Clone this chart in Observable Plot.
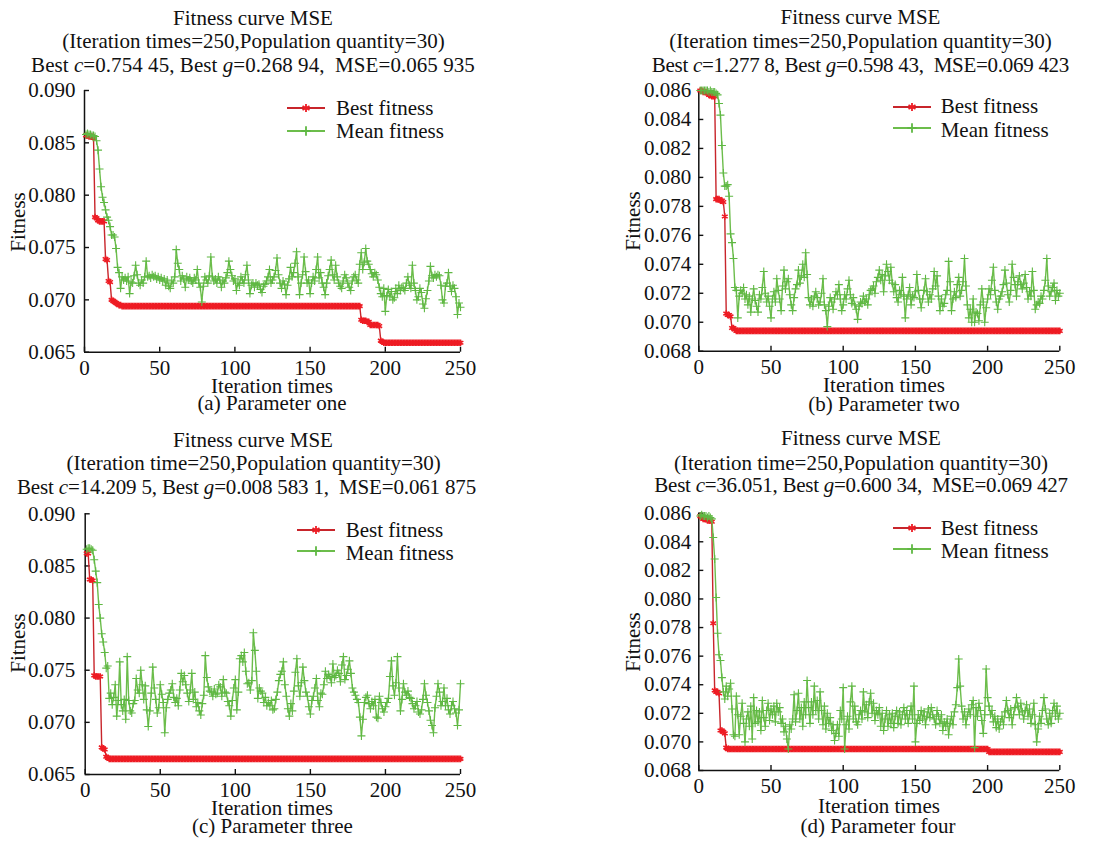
<!DOCTYPE html>
<html><head><meta charset="utf-8">
<script src="https://cdn.jsdelivr.net/npm/d3@7"></script>
<script src="https://cdn.jsdelivr.net/npm/@observablehq/plot@0.6"></script>
<style>
html,body{margin:0;padding:0;background:#fff;}
body{width:1103px;height:842px;position:relative;overflow:hidden;font-family:"Liberation Serif","Times New Roman",serif;color:#111;}
.t{position:absolute;white-space:nowrap;font-size:21px;line-height:16px;}
.p{position:absolute;}
.p svg{overflow:visible;}
</style>
</head><body>
<script>
// ---------- data ----------
const iterations = d3.range(1, 251);
const xTicks = [0, 50, 100, 150, 200, 250];
const yTicksWide = [0.065, 0.070, 0.075, 0.080, 0.085, 0.090];
const yTicksNarrow = [0.068, 0.070, 0.072, 0.074, 0.076, 0.078, 0.080, 0.082, 0.084, 0.086];

const bestA = [
0.0857,0.0857,0.0856,0.0856,0.0856,0.0855,0.0779,0.0778,0.0776,0.0775,
0.0775,0.0775,0.0775,0.0739,0.0738,0.0718,0.0717,0.0700,0.0699,0.0698,
0.0697,0.0696,0.0695,0.0695,0.0694,0.0694,0.0694,0.0694,0.0694,0.0694,
0.0694,0.0694,0.0694,0.0694,0.0694,0.0694,0.0694,0.0694,0.0694,0.0694,
0.0694,0.0694,0.0694,0.0694,0.0694,0.0694,0.0694,0.0694,0.0694,0.0694,
0.0694,0.0694,0.0694,0.0694,0.0694,0.0694,0.0694,0.0694,0.0694,0.0694,
0.0694,0.0694,0.0694,0.0694,0.0694,0.0694,0.0694,0.0694,0.0694,0.0694,
0.0694,0.0694,0.0694,0.0694,0.0694,0.0694,0.0694,0.0694,0.0694,0.0694,
0.0694,0.0694,0.0694,0.0694,0.0694,0.0694,0.0694,0.0694,0.0694,0.0694,
0.0694,0.0694,0.0694,0.0694,0.0694,0.0694,0.0694,0.0694,0.0694,0.0694,
0.0694,0.0694,0.0694,0.0694,0.0694,0.0694,0.0694,0.0694,0.0694,0.0694,
0.0694,0.0694,0.0694,0.0694,0.0694,0.0694,0.0694,0.0694,0.0694,0.0694,
0.0694,0.0694,0.0694,0.0694,0.0694,0.0694,0.0694,0.0694,0.0694,0.0694,
0.0694,0.0694,0.0694,0.0694,0.0694,0.0694,0.0694,0.0694,0.0694,0.0694,
0.0694,0.0694,0.0694,0.0694,0.0694,0.0694,0.0694,0.0694,0.0694,0.0694,
0.0694,0.0694,0.0694,0.0694,0.0694,0.0694,0.0694,0.0694,0.0694,0.0694,
0.0694,0.0694,0.0694,0.0694,0.0694,0.0694,0.0694,0.0694,0.0694,0.0694,
0.0694,0.0694,0.0694,0.0694,0.0694,0.0694,0.0694,0.0694,0.0694,0.0694,
0.0694,0.0694,0.0694,0.0681,0.0680,0.0680,0.0680,0.0679,0.0679,0.0676,
0.0676,0.0676,0.0676,0.0676,0.0676,0.0675,0.0661,0.0660,0.0659,0.0659,
0.0659,0.0659,0.0659,0.0659,0.0659,0.0659,0.0659,0.0659,0.0659,0.0659,
0.0659,0.0659,0.0659,0.0659,0.0659,0.0659,0.0659,0.0659,0.0659,0.0659,
0.0659,0.0659,0.0659,0.0659,0.0659,0.0659,0.0659,0.0659,0.0659,0.0659,
0.0659,0.0659,0.0659,0.0659,0.0659,0.0659,0.0659,0.0659,0.0659,0.0659,
0.0659,0.0659,0.0659,0.0659,0.0659,0.0659,0.0659,0.0659,0.0659,0.0659];

const meanA = [
0.0858,0.0859,0.0858,0.0858,0.0857,0.0857,0.0856,0.0852,0.0843,0.0825,
0.0808,0.0798,0.0793,0.0786,0.0779,0.0776,0.0770,0.0762,0.0762,0.0760,
0.0749,0.0731,0.0726,0.0711,0.0722,0.0719,0.0721,0.0718,0.0722,0.0706,
0.0717,0.0716,0.0723,0.0733,0.0724,0.0716,0.0714,0.0719,0.0716,0.0722,
0.0737,0.0722,0.0723,0.0721,0.0724,0.0722,0.0723,0.0720,0.0722,0.0719,
0.0721,0.0718,0.0720,0.0714,0.0719,0.0713,0.0711,0.0718,0.0716,0.0722,
0.0748,0.0735,0.0729,0.0718,0.0723,0.0720,0.0712,0.0722,0.0719,0.0721,
0.0718,0.0716,0.0721,0.0719,0.0729,0.0716,0.0712,0.0698,0.0713,0.0722,
0.0719,0.0716,0.0723,0.0741,0.0722,0.0718,0.0720,0.0716,0.0722,0.0719,
0.0712,0.0718,0.0716,0.0721,0.0726,0.0737,0.0729,0.0723,0.0718,0.0720,
0.0709,0.0716,0.0714,0.0722,0.0719,0.0716,0.0724,0.0733,0.0719,0.0706,
0.0714,0.0716,0.0712,0.0716,0.0714,0.0715,0.0710,0.0707,0.0713,0.0715,
0.0718,0.0722,0.0729,0.0716,0.0719,0.0722,0.0728,0.0740,0.0724,0.0716,
0.0711,0.0718,0.0715,0.0705,0.0714,0.0720,0.0731,0.0722,0.0726,0.0735,
0.0746,0.0722,0.0705,0.0716,0.0724,0.0741,0.0727,0.0716,0.0719,0.0706,
0.0716,0.0722,0.0718,0.0729,0.0741,0.0721,0.0726,0.0716,0.0712,0.0705,
0.0716,0.0723,0.0729,0.0738,0.0724,0.0719,0.0733,0.0722,0.0716,0.0713,
0.0711,0.0718,0.0724,0.0721,0.0716,0.0712,0.0709,0.0718,0.0722,0.0724,
0.0719,0.0716,0.0734,0.0745,0.0729,0.0736,0.0749,0.0737,0.0734,0.0729,
0.0725,0.0722,0.0726,0.0724,0.0719,0.0712,0.0706,0.0703,0.0711,0.0689,
0.0704,0.0710,0.0703,0.0708,0.0700,0.0702,0.0711,0.0706,0.0714,0.0709,
0.0712,0.0711,0.0709,0.0716,0.0722,0.0714,0.0711,0.0733,0.0716,0.0709,
0.0700,0.0703,0.0711,0.0707,0.0696,0.0692,0.0701,0.0709,0.0718,0.0732,
0.0723,0.0721,0.0724,0.0722,0.0724,0.0723,0.0714,0.0700,0.0697,0.0713,
0.0716,0.0726,0.0713,0.0708,0.0714,0.0711,0.0703,0.0686,0.0697,0.0693];

const bestB = [
0.0860,0.0860,0.0859,0.0859,0.0859,0.0858,0.0857,0.0857,0.0856,0.0856,
0.0856,0.0785,0.0785,0.0785,0.0784,0.0784,0.0783,0.0773,0.0706,0.0705,
0.0705,0.0704,0.0696,0.0696,0.0695,0.0694,0.0694,0.0694,0.0694,0.0694,
0.0694,0.0694,0.0694,0.0694,0.0694,0.0694,0.0694,0.0694,0.0694,0.0694,
0.0694,0.0694,0.0694,0.0694,0.0694,0.0694,0.0694,0.0694,0.0694,0.0694,
0.0694,0.0694,0.0694,0.0694,0.0694,0.0694,0.0694,0.0694,0.0694,0.0694,
0.0694,0.0694,0.0694,0.0694,0.0694,0.0694,0.0694,0.0694,0.0694,0.0694,
0.0694,0.0694,0.0694,0.0694,0.0694,0.0694,0.0694,0.0694,0.0694,0.0694,
0.0694,0.0694,0.0694,0.0694,0.0694,0.0694,0.0694,0.0694,0.0694,0.0694,
0.0694,0.0694,0.0694,0.0694,0.0694,0.0694,0.0694,0.0694,0.0694,0.0694,
0.0694,0.0694,0.0694,0.0694,0.0694,0.0694,0.0694,0.0694,0.0694,0.0694,
0.0694,0.0694,0.0694,0.0694,0.0694,0.0694,0.0694,0.0694,0.0694,0.0694,
0.0694,0.0694,0.0694,0.0694,0.0694,0.0694,0.0694,0.0694,0.0694,0.0694,
0.0694,0.0694,0.0694,0.0694,0.0694,0.0694,0.0694,0.0694,0.0694,0.0694,
0.0694,0.0694,0.0694,0.0694,0.0694,0.0694,0.0694,0.0694,0.0694,0.0694,
0.0694,0.0694,0.0694,0.0694,0.0694,0.0694,0.0694,0.0694,0.0694,0.0694,
0.0694,0.0694,0.0694,0.0694,0.0694,0.0694,0.0694,0.0694,0.0694,0.0694,
0.0694,0.0694,0.0694,0.0694,0.0694,0.0694,0.0694,0.0694,0.0694,0.0694,
0.0694,0.0694,0.0694,0.0694,0.0694,0.0694,0.0694,0.0694,0.0694,0.0694,
0.0694,0.0694,0.0694,0.0694,0.0694,0.0694,0.0694,0.0694,0.0694,0.0694,
0.0694,0.0694,0.0694,0.0694,0.0694,0.0694,0.0694,0.0694,0.0694,0.0694,
0.0694,0.0694,0.0694,0.0694,0.0694,0.0694,0.0694,0.0694,0.0694,0.0694,
0.0694,0.0694,0.0694,0.0694,0.0694,0.0694,0.0694,0.0694,0.0694,0.0694,
0.0694,0.0694,0.0694,0.0694,0.0694,0.0694,0.0694,0.0694,0.0694,0.0694,
0.0694,0.0694,0.0694,0.0694,0.0694,0.0694,0.0694,0.0694,0.0694,0.0694];

const meanB = [
0.0860,0.0860,0.0860,0.0860,0.0860,0.0860,0.0859,0.0860,0.0859,0.0859,
0.0859,0.0858,0.0857,0.0851,0.0843,0.0822,0.0803,0.0794,0.0794,0.0795,
0.0787,0.0761,0.0755,0.0744,0.0724,0.0722,0.0703,0.0718,0.0722,0.0720,
0.0724,0.0716,0.0719,0.0712,0.0718,0.0707,0.0716,0.0723,0.0715,0.0711,
0.0707,0.0719,0.0716,0.0724,0.0735,0.0720,0.0714,0.0718,0.0711,0.0703,
0.0716,0.0721,0.0714,0.0730,0.0722,0.0716,0.0708,0.0725,0.0736,0.0723,
0.0728,0.0730,0.0719,0.0712,0.0708,0.0717,0.0723,0.0726,0.0736,0.0727,
0.0732,0.0740,0.0731,0.0748,0.0733,0.0717,0.0712,0.0716,0.0711,0.0718,
0.0721,0.0717,0.0712,0.0714,0.0720,0.0730,0.0712,0.0708,0.0697,0.0711,
0.0717,0.0714,0.0709,0.0716,0.0721,0.0719,0.0726,0.0716,0.0708,0.0712,
0.0719,0.0716,0.0723,0.0729,0.0719,0.0713,0.0717,0.0712,0.0709,0.0702,
0.0711,0.0714,0.0713,0.0718,0.0714,0.0716,0.0712,0.0719,0.0722,0.0723,
0.0725,0.0720,0.0728,0.0731,0.0736,0.0729,0.0733,0.0721,0.0732,0.0740,
0.0735,0.0729,0.0738,0.0727,0.0721,0.0726,0.0717,0.0714,0.0722,0.0719,
0.0731,0.0718,0.0703,0.0716,0.0719,0.0724,0.0712,0.0718,0.0717,0.0721,
0.0733,0.0722,0.0716,0.0710,0.0716,0.0722,0.0730,0.0721,0.0714,0.0719,
0.0716,0.0723,0.0735,0.0725,0.0732,0.0718,0.0708,0.0716,0.0711,0.0713,
0.0719,0.0722,0.0742,0.0728,0.0708,0.0716,0.0721,0.0717,0.0726,0.0731,
0.0718,0.0722,0.0728,0.0744,0.0725,0.0712,0.0703,0.0709,0.0700,0.0716,
0.0700,0.0707,0.0706,0.0701,0.0712,0.0723,0.0714,0.0700,0.0710,0.0716,
0.0723,0.0719,0.0729,0.0738,0.0722,0.0714,0.0709,0.0716,0.0718,0.0721,
0.0726,0.0736,0.0727,0.0719,0.0714,0.0722,0.0740,0.0731,0.0726,0.0718,
0.0728,0.0732,0.0726,0.0723,0.0727,0.0733,0.0724,0.0716,0.0721,0.0718,
0.0735,0.0722,0.0709,0.0712,0.0714,0.0713,0.0718,0.0716,0.0722,0.0729,
0.0744,0.0725,0.0718,0.0721,0.0724,0.0727,0.0715,0.0722,0.0718,0.0720];

const bestC = [
0.0862,0.0862,0.0837,0.0837,0.0836,0.0745,0.0744,0.0744,0.0744,0.0744,
0.0676,0.0675,0.0674,0.0667,0.0666,0.0665,0.0665,0.0665,0.0665,0.0665,
0.0665,0.0665,0.0665,0.0665,0.0665,0.0665,0.0665,0.0665,0.0665,0.0665,
0.0665,0.0665,0.0665,0.0665,0.0665,0.0665,0.0665,0.0665,0.0665,0.0665,
0.0665,0.0665,0.0665,0.0665,0.0665,0.0665,0.0665,0.0665,0.0665,0.0665,
0.0665,0.0665,0.0665,0.0665,0.0665,0.0665,0.0665,0.0665,0.0665,0.0665,
0.0665,0.0665,0.0665,0.0665,0.0665,0.0665,0.0665,0.0665,0.0665,0.0665,
0.0665,0.0665,0.0665,0.0665,0.0665,0.0665,0.0665,0.0665,0.0665,0.0665,
0.0665,0.0665,0.0665,0.0665,0.0665,0.0665,0.0665,0.0665,0.0665,0.0665,
0.0665,0.0665,0.0665,0.0665,0.0665,0.0665,0.0665,0.0665,0.0665,0.0665,
0.0665,0.0665,0.0665,0.0665,0.0665,0.0665,0.0665,0.0665,0.0665,0.0665,
0.0665,0.0665,0.0665,0.0665,0.0665,0.0665,0.0665,0.0665,0.0665,0.0665,
0.0665,0.0665,0.0665,0.0665,0.0665,0.0665,0.0665,0.0665,0.0665,0.0665,
0.0665,0.0665,0.0665,0.0665,0.0665,0.0665,0.0665,0.0665,0.0665,0.0665,
0.0665,0.0665,0.0665,0.0665,0.0665,0.0665,0.0665,0.0665,0.0665,0.0665,
0.0665,0.0665,0.0665,0.0665,0.0665,0.0665,0.0665,0.0665,0.0665,0.0665,
0.0665,0.0665,0.0665,0.0665,0.0665,0.0665,0.0665,0.0665,0.0665,0.0665,
0.0665,0.0665,0.0665,0.0665,0.0665,0.0665,0.0665,0.0665,0.0665,0.0665,
0.0665,0.0665,0.0665,0.0665,0.0665,0.0665,0.0665,0.0665,0.0665,0.0665,
0.0665,0.0665,0.0665,0.0665,0.0665,0.0665,0.0665,0.0665,0.0665,0.0665,
0.0665,0.0665,0.0665,0.0665,0.0665,0.0665,0.0665,0.0665,0.0665,0.0665,
0.0665,0.0665,0.0665,0.0665,0.0665,0.0665,0.0665,0.0665,0.0665,0.0665,
0.0665,0.0665,0.0665,0.0665,0.0665,0.0665,0.0665,0.0665,0.0665,0.0665,
0.0665,0.0665,0.0665,0.0665,0.0665,0.0665,0.0665,0.0665,0.0665,0.0665,
0.0665,0.0665,0.0665,0.0665,0.0665,0.0665,0.0665,0.0665,0.0665,0.0665];

const meanC = [
0.0866,0.0867,0.0867,0.0866,0.0865,0.0856,0.0845,0.0834,0.0813,0.0800,
0.0785,0.0777,0.0767,0.0752,0.0754,0.0723,0.0728,0.0717,0.0724,0.0736,
0.0706,0.0721,0.0758,0.0717,0.0711,0.0722,0.0703,0.0763,0.0721,0.0711,
0.0709,0.0718,0.0721,0.0742,0.0731,0.0728,0.0750,0.0736,0.0722,0.0735,
0.0712,0.0696,0.0711,0.0728,0.0753,0.0733,0.0722,0.0709,0.0714,0.0736,
0.0727,0.0719,0.0690,0.0714,0.0722,0.0728,0.0731,0.0737,0.0724,0.0719,
0.0723,0.0716,0.0731,0.0747,0.0739,0.0745,0.0736,0.0728,0.0720,0.0731,
0.0747,0.0722,0.0729,0.0715,0.0719,0.0711,0.0707,0.0718,0.0726,0.0764,
0.0743,0.0734,0.0730,0.0729,0.0725,0.0732,0.0727,0.0728,0.0736,0.0734,
0.0725,0.0741,0.0729,0.0728,0.0720,0.0716,0.0706,0.0721,0.0733,0.0741,
0.0712,0.0729,0.0761,0.0764,0.0758,0.0767,0.0749,0.0737,0.0738,0.0731,
0.0740,0.0786,0.0769,0.0749,0.0723,0.0733,0.0730,0.0728,0.0719,0.0724,
0.0716,0.0719,0.0716,0.0721,0.0712,0.0713,0.0722,0.0729,0.0740,0.0746,
0.0749,0.0758,0.0736,0.0725,0.0713,0.0706,0.0718,0.0711,0.0730,0.0748,
0.0761,0.0735,0.0725,0.0738,0.0753,0.0740,0.0729,0.0725,0.0715,0.0708,
0.0721,0.0725,0.0733,0.0742,0.0721,0.0715,0.0728,0.0727,0.0736,0.0749,
0.0742,0.0746,0.0744,0.0738,0.0756,0.0743,0.0745,0.0750,0.0747,0.0739,
0.0755,0.0763,0.0741,0.0745,0.0751,0.0759,0.0747,0.0733,0.0729,0.0726,
0.0722,0.0719,0.0705,0.0687,0.0703,0.0719,0.0724,0.0726,0.0718,0.0713,
0.0720,0.0716,0.0722,0.0705,0.0704,0.0725,0.0719,0.0713,0.0710,0.0715,
0.0719,0.0723,0.0744,0.0759,0.0735,0.0726,0.0738,0.0763,0.0733,0.0711,
0.0722,0.0737,0.0729,0.0726,0.0730,0.0724,0.0723,0.0718,0.0713,0.0716,
0.0720,0.0710,0.0708,0.0712,0.0722,0.0737,0.0726,0.0719,0.0711,0.0702,
0.0697,0.0690,0.0714,0.0725,0.0737,0.0729,0.0716,0.0720,0.0733,0.0716,
0.0723,0.0712,0.0708,0.0716,0.0720,0.0713,0.0709,0.0697,0.0712,0.0737];

const bestD = [
0.0858,0.0857,0.0856,0.0856,0.0856,0.0855,0.0855,0.0855,0.0854,0.0783,
0.0736,0.0735,0.0735,0.0734,0.0708,0.0708,0.0707,0.0706,0.0696,0.0695,
0.0695,0.0695,0.0695,0.0695,0.0695,0.0695,0.0695,0.0695,0.0695,0.0695,
0.0695,0.0695,0.0695,0.0695,0.0695,0.0695,0.0695,0.0695,0.0695,0.0695,
0.0695,0.0695,0.0695,0.0695,0.0695,0.0695,0.0695,0.0695,0.0695,0.0695,
0.0695,0.0695,0.0695,0.0695,0.0695,0.0695,0.0695,0.0695,0.0695,0.0695,
0.0695,0.0695,0.0695,0.0695,0.0695,0.0695,0.0695,0.0695,0.0695,0.0695,
0.0695,0.0695,0.0695,0.0695,0.0695,0.0695,0.0695,0.0695,0.0695,0.0695,
0.0695,0.0695,0.0695,0.0695,0.0695,0.0695,0.0695,0.0695,0.0695,0.0695,
0.0695,0.0695,0.0695,0.0695,0.0695,0.0695,0.0695,0.0695,0.0695,0.0695,
0.0695,0.0695,0.0695,0.0695,0.0695,0.0695,0.0695,0.0695,0.0695,0.0695,
0.0695,0.0695,0.0695,0.0695,0.0695,0.0695,0.0695,0.0695,0.0695,0.0695,
0.0695,0.0695,0.0695,0.0695,0.0695,0.0695,0.0695,0.0695,0.0695,0.0695,
0.0695,0.0695,0.0695,0.0695,0.0695,0.0695,0.0695,0.0695,0.0695,0.0695,
0.0695,0.0695,0.0695,0.0695,0.0695,0.0695,0.0695,0.0695,0.0695,0.0695,
0.0695,0.0695,0.0695,0.0695,0.0695,0.0695,0.0695,0.0695,0.0695,0.0695,
0.0695,0.0695,0.0695,0.0695,0.0695,0.0695,0.0695,0.0695,0.0695,0.0695,
0.0695,0.0695,0.0695,0.0695,0.0695,0.0695,0.0695,0.0695,0.0695,0.0695,
0.0695,0.0695,0.0695,0.0695,0.0695,0.0695,0.0695,0.0695,0.0695,0.0695,
0.0695,0.0695,0.0695,0.0695,0.0695,0.0695,0.0695,0.0695,0.0695,0.0695,
0.0693,0.0693,0.0693,0.0693,0.0693,0.0693,0.0693,0.0693,0.0693,0.0693,
0.0693,0.0693,0.0693,0.0693,0.0693,0.0693,0.0693,0.0693,0.0693,0.0693,
0.0693,0.0693,0.0693,0.0693,0.0693,0.0693,0.0693,0.0693,0.0693,0.0693,
0.0693,0.0693,0.0693,0.0693,0.0693,0.0693,0.0693,0.0693,0.0693,0.0693,
0.0693,0.0693,0.0693,0.0693,0.0693,0.0693,0.0693,0.0693,0.0693,0.0693];

const meanD = [
0.0858,0.0859,0.0858,0.0858,0.0858,0.0857,0.0858,0.0857,0.0856,0.0843,
0.0828,0.0801,0.0776,0.0761,0.0757,0.0745,0.0735,0.0730,0.0739,0.0732,
0.0737,0.0741,0.0723,0.0705,0.0704,0.0732,0.0719,0.0705,0.0718,0.0727,
0.0713,0.0700,0.0716,0.0721,0.0711,0.0725,0.0702,0.0731,0.0713,0.0722,
0.0714,0.0721,0.0708,0.0729,0.0717,0.0711,0.0722,0.0727,0.0715,0.0723,
0.0719,0.0725,0.0714,0.0727,0.0721,0.0724,0.0713,0.0716,0.0707,0.0711,
0.0702,0.0695,0.0712,0.0709,0.0716,0.0733,0.0714,0.0722,0.0734,0.0716,
0.0724,0.0711,0.0728,0.0719,0.0743,0.0724,0.0713,0.0728,0.0719,0.0739,
0.0722,0.0729,0.0716,0.0735,0.0722,0.0712,0.0725,0.0709,0.0720,0.0713,
0.0717,0.0708,0.0712,0.0701,0.0706,0.0712,0.0704,0.0722,0.0716,0.0738,
0.0695,0.0712,0.0718,0.0709,0.0728,0.0739,0.0716,0.0725,0.0714,0.0712,
0.0719,0.0722,0.0716,0.0735,0.0721,0.0726,0.0717,0.0728,0.0734,0.0720,
0.0727,0.0715,0.0722,0.0719,0.0724,0.0711,0.0720,0.0708,0.0716,0.0722,
0.0711,0.0719,0.0713,0.0720,0.0710,0.0718,0.0722,0.0713,0.0721,0.0712,
0.0719,0.0724,0.0716,0.0722,0.0713,0.0719,0.0725,0.0716,0.0739,0.0700,
0.0713,0.0719,0.0715,0.0722,0.0716,0.0721,0.0712,0.0718,0.0723,0.0717,
0.0724,0.0719,0.0716,0.0712,0.0722,0.0718,0.0713,0.0719,0.0708,0.0714,
0.0711,0.0716,0.0705,0.0713,0.0718,0.0712,0.0721,0.0726,0.0738,0.0758,
0.0739,0.0725,0.0716,0.0721,0.0712,0.0718,0.0723,0.0719,0.0726,0.0729,
0.0696,0.0724,0.0718,0.0727,0.0722,0.0715,0.0706,0.0719,0.0751,0.0731,
0.0725,0.0719,0.0722,0.0714,0.0718,0.0710,0.0716,0.0709,0.0714,0.0718,
0.0712,0.0721,0.0729,0.0722,0.0717,0.0723,0.0712,0.0719,0.0724,0.0731,
0.0725,0.0719,0.0727,0.0721,0.0716,0.0722,0.0726,0.0718,0.0723,0.0713,
0.0719,0.0727,0.0712,0.0700,0.0709,0.0718,0.0713,0.0722,0.0731,0.0723,
0.0716,0.0712,0.0720,0.0713,0.0722,0.0727,0.0718,0.0725,0.0716,0.0720];

const seriesNames = ["Best fitness", "Mean fitness"];
const titleLine1 = ["Fitness curve MSE", "Fitness curve MSE", "Fitness curve MSE", "Fitness curve MSE"];
const titleLine2 = ["(Iteration times=250,Population quantity=30)", "(Iteration times=250,Population quantity=30)",
                    "(Iteration time=250,Population quantity=30)", "(Iteration time=250,Population quantity=30)"];
const titleLine3 = [
  "Best <i>c</i>=0.754 45, Best <i>g</i>=0.268 94,&nbsp; MSE=0.065 935",
  "Best <i>c</i>=1.277 8, Best <i>g</i>=0.598 43,&nbsp; MSE=0.069 423",
  "Best <i>c</i>=14.209 5, Best <i>g</i>=0.008 583 1,&nbsp; MSE=0.061 875",
  "Best <i>c</i>=36.051, Best <i>g</i>=0.600 34,&nbsp; MSE=0.069 427"];
const captions = ["(a) Parameter one", "(b) Parameter two", "(c) Parameter three", "(d) Parameter four"];
const xLabel = "Iteration times";
const yLabel = "Fitness";

// ---------- styles ----------
const RED = "#ee1c24", RED_LINE = "#c8252b", GREEN = "#5fb843", GREEN_LINE = "#6cbd4b";
const FONT = "Liberation Serif";
const FS = 21, LH = 16;
const ASC = (LH - 1.107 * FS) / 2 + 0.891 * FS; // baseline offset inside a text box

function txt(html, x, baseline, center = true, spacing = null) {
  const d = document.createElement("div");
  d.className = "t";
  d.innerHTML = html;
  d.style.left = x + "px";
  d.style.top = (baseline - ASC) + "px";
  if (center) d.style.transform = "translateX(-50%)";
  if (spacing != null) d.style.letterSpacing = spacing + "px";
  document.body.appendChild(d);
}
function vtxt(html, cx, cy) {
  const d = document.createElement("div");
  d.className = "t";
  d.innerHTML = html;
  d.style.left = cx + "px";
  d.style.top = cy + "px";
  d.style.transform = "translate(-50%,-50%) rotate(-90deg)";
  document.body.appendChild(d);
}
function legendSwatch(x1, x2, y, lineColor, markColor, type, size) {
  const w = x2 - x1;
  const svg = d3.create("svg").attr("width", w).attr("height", 12)
    .style("position", "absolute").style("left", x1 + "px").style("top", (y - 6) + "px");
  svg.append("line").attr("x1", 0).attr("x2", w).attr("y1", 6).attr("y2", 6)
    .attr("stroke", lineColor).attr("stroke-width", 2.2);
  svg.append("path").attr("d", d3.symbol(type, size)()).attr("transform", `translate(${w / 2},6)`)
    .attr("fill", "none").attr("stroke", markColor).attr("stroke-width", 1.8);
  document.body.appendChild(svg.node());
}

function panel(cfg) {
  const data = iterations.map((x, i) => ({x, best: cfg.best[i], mean: cfg.mean[i]}));
  const fmt = d3.format(".3f");
  const chart = Plot.plot({
    width: cfg.width, height: cfg.height,
    marginLeft: cfg.mL, marginRight: cfg.mR, marginTop: cfg.mT, marginBottom: cfg.mB,
    style: {fontFamily: FONT, fontSize: FS + "px", color: "#111", background: "transparent", overflow: "visible"},
    x: {domain: [0, 250], label: null},
    y: {domain: cfg.yDomain, label: null},
    marks: [
      Plot.axisX({ticks: xTicks, tickSize: 0, tickPadding: 8, tickFormat: d => String(d), label: null}),
      Plot.axisX({ticks: xTicks, tickSize: -5, tickFormat: () => "", label: null, strokeWidth: 1.4}),
      Plot.axisY({ticks: cfg.yTicks, tickSize: 0, tickPadding: cfg.padY, tickFormat: fmt, label: null}),
      Plot.axisY({ticks: cfg.yTicks, tickSize: -5, tickFormat: () => "", label: null, strokeWidth: 1.4}),
      Plot.ruleX([0], {strokeWidth: 1.5}),
      Plot.ruleY([cfg.yDomain[0]], {strokeWidth: 1.5}),
      Plot.line(data, {x: "x", y: "best", stroke: RED_LINE, strokeWidth: 1.4}),
      Plot.dot(data, {x: "x", y: "best", symbol: "asterisk", r: 3.1, stroke: RED, strokeWidth: 1.6}),
      Plot.line(data, {x: "x", y: "mean", stroke: GREEN_LINE, strokeWidth: 1.4}),
      Plot.dot(data, {x: "x", y: "mean", symbol: "plus", r: 2.7, stroke: GREEN, strokeWidth: 1.1})
    ]
  });
  const wrap = document.createElement("div");
  wrap.className = "p";
  wrap.style.left = cfg.left + "px";
  wrap.style.top = cfg.top + "px";
  wrap.appendChild(chart);
  document.body.appendChild(wrap);
}

// ---------- layout ----------
const panels = [
  {best: bestA, mean: meanA, yDomain: [0.065, 0.090], yTicks: yTicksWide, left: 0, top: 80, width: 480, height: 300,
   mL: 84, mR: 20, mT: 10, mB: 28.3, padY: 9,
   tx: [253, 253.5, 253], tb: [25, 48.3, 71.7], ls3: 0.06, lgLine: [287, 325], lgText: 336, lgY: [108, 130.7], lgB: [115, 137.7],
   xl: [272, 393], cap: [272, 410], yl: [17.5, 221.7]},
  {best: bestB, mean: meanB, yDomain: [0.068, 0.086], yTicks: yTicksNarrow, left: 560, top: 80, width: 543, height: 300,
   mL: 138.3, mR: 43.7, mT: 10, mB: 29.3, padY: 7.6,
   tx: [860.5, 860.5, 860.4], tb: [24.5, 48.3, 71.7], ls3: -0.28, lgLine: [893, 931], lgText: 940.7, lgY: [106.7, 127.7], lgB: [113.3, 136.7],
   xl: [884, 392], cap: [884, 410.7], yl: [633.3, 221]},
  {best: bestC, mean: meanC, yDomain: [0.065, 0.090], yTicks: yTicksWide, left: 0, top: 503, width: 480, height: 300,
   mL: 84.7, mR: 20, mT: 10.3, mB: 29, padY: 10,
   tx: [253, 253.7, 246.5], tb: [446.7, 470, 494], ls3: -0.16, lgLine: [297, 335], lgText: 345.7, lgY: [530, 551], lgB: [536.7, 560],
   xl: [272, 815], cap: [272.5, 833], yl: [17.5, 643]},
  {best: bestD, mean: meanD, yDomain: [0.068, 0.086], yTicks: yTicksNarrow, left: 560, top: 503, width: 543, height: 300,
   mL: 138.3, mR: 43.7, mT: 9.7, mB: 33, padY: 7.6,
   tx: [861, 861, 861], tb: [445, 470, 491.7], ls3: -0.26, lgLine: [893, 931], lgText: 940.7, lgY: [528.3, 549], lgB: [535, 558.3],
   xl: [879, 813], cap: [878, 833], yl: [633, 641.7]}
];

panels.forEach((p, k) => {
  panel(p);
  txt(titleLine1[k], p.tx[0], p.tb[0]);
  txt(titleLine2[k], p.tx[1], p.tb[1]);
  txt(titleLine3[k], p.tx[2], p.tb[2], true, p.ls3);
  legendSwatch(p.lgLine[0], p.lgLine[1], p.lgY[0], RED_LINE, RED, d3.symbolAsterisk, 45);
  legendSwatch(p.lgLine[0], p.lgLine[1], p.lgY[1], GREEN_LINE, GREEN, d3.symbolPlus, 30);
  txt(seriesNames[0], p.lgText, p.lgB[0], false);
  txt(seriesNames[1], p.lgText, p.lgB[1], false);
  txt(xLabel, p.xl[0], p.xl[1]);
  txt(captions[k], p.cap[0], p.cap[1]);
  vtxt(yLabel, p.yl[0], p.yl[1]);
});
</script>
</body></html>
